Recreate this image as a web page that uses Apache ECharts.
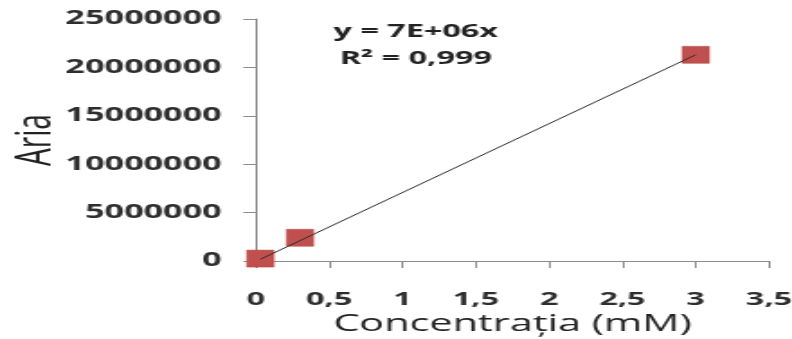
<!DOCTYPE html>
<html>
<head>
<meta charset="utf-8">
<script src="https://cdn.jsdelivr.net/npm/echarts@6/dist/echarts.min.js"></script>
<style>
html,body{margin:0;padding:0;background:#fff;overflow:hidden;width:792px;height:339px;}
#c{width:440px;height:339px;transform:scaleX(1.8);transform-origin:0 0;}
</style>
</head>
<body>
<div id="c"></div>
<script>
// Data
var concentration = [0.03, 0.3, 3];
var area = [250000, 2400000, 21300000];
var trendX = [0.03, 3];
var trendY = [180000, 21300000];
var xTicks = [0, 0.5, 1, 1.5, 2, 2.5, 3, 3.5];
var yTicks = [0, 5000000, 10000000, 15000000, 20000000, 25000000];
var equationText = 'y = 7E+06x\nR² = 0,999';
var xTitle = 'Concentrația (mM)';
var yTitle = 'Aria';

var chart = echarts.init(document.getElementById('c'), null, {renderer: 'canvas'});
var font = '"Open Sans", "DejaVu Sans", sans-serif';
var axisColor = '#8c8c8c';
var labelColor = '#2e2e2e';

chart.setOption({
  animation: false,
  backgroundColor: '#ffffff',
  title: {
    text: equationText,
    left: 226,
    top: 13,
    textAlign: 'center',
    textStyle: {fontFamily: font, fontWeight: 'bold', fontSize: 18, color: '#222222', lineHeight: 27, align: 'center'}
  },
  grid: {left: 142.2, right: 12.8, top: 19, bottom: 78, containLabel: false, outerBoundsMode: 'none'},
  xAxis: {
    type: 'value',
    min: xTicks[0],
    max: xTicks[xTicks.length - 1],
    interval: 0.5,
    name: xTitle,
    nameLocation: 'middle',
    nameGap: 52,
    nameMoveOverlap: false,
    nameTextStyle: {fontFamily: font, fontSize: 23, color: '#222222'},
    axisLine: {show: true, lineStyle: {color: axisColor, width: 1}},
    axisTick: {show: true, inside: false, length: 7, lineStyle: {color: axisColor}},
    splitLine: {show: false},
    axisLabel: {
      margin: 30, fontFamily: font, fontWeight: 'bold', fontSize: 18, color: labelColor,
      formatter: function (v) { return String(v).replace('.', ','); }
    }
  },
  yAxis: {
    type: 'value',
    min: yTicks[0],
    max: yTicks[yTicks.length - 1],
    interval: 5000000,
    name: yTitle,
    nameLocation: 'middle',
    nameRotate: 90,
    nameGap: 108,
    nameMoveOverlap: false,
    nameTextStyle: {fontFamily: font, fontSize: 28, color: '#222222'},
    axisLine: {show: true, lineStyle: {color: axisColor, width: 1}},
    axisTick: {show: true, inside: false, length: 7, lineStyle: {color: axisColor}},
    splitLine: {show: false},
    axisLabel: {
      margin: 19, fontFamily: font, fontWeight: 'bold', fontSize: 19, color: labelColor,
      formatter: function (v) { return String(v); }
    }
  },
  series: [
    {
      type: 'line',
      data: trendX.map(function (x, i) { return [x, trendY[i]]; }),
      showSymbol: false,
      symbol: 'none',
      lineStyle: {color: '#2b2b2b', width: 1},
      z: 3
    },
    {
      type: 'scatter',
      data: concentration.map(function (x, i) { return [x, area[i]]; }),
      symbol: 'rect',
      symbolSize: [15, 17],
      itemStyle: {color: '#c0504d', opacity: 1, borderColor: '#b84a47', borderWidth: 0.5},
      z: 2
    }
  ]
});
</script>
</body>
</html>
